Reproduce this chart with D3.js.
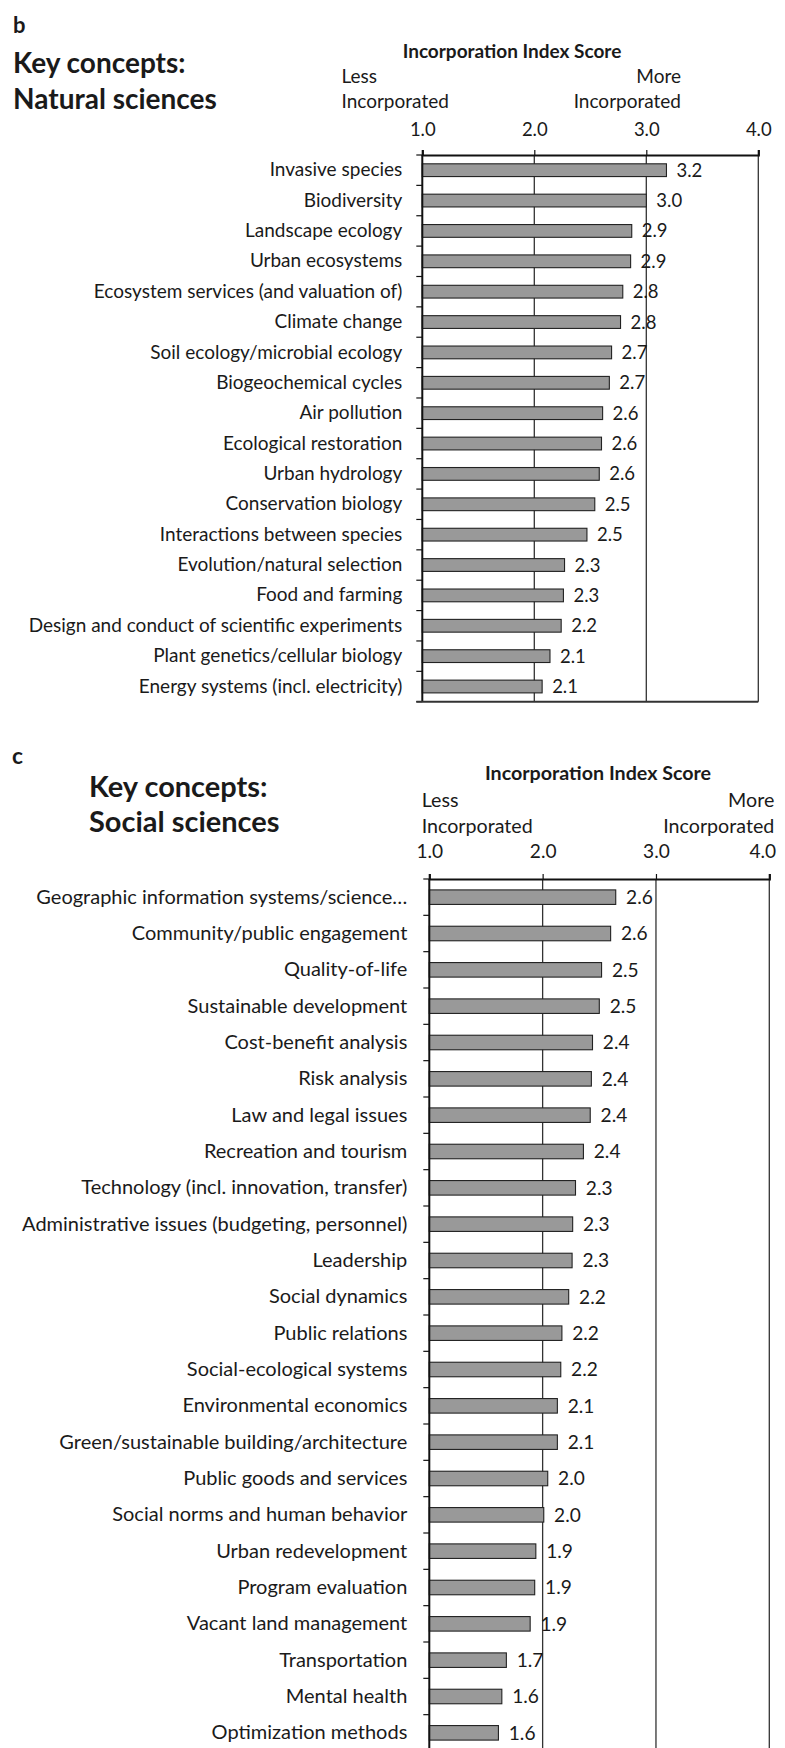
<!DOCTYPE html>
<html>
<head>
<meta charset="utf-8">
<script src="https://cdn.jsdelivr.net/npm/d3@7"></script>
<style>
  html, body { margin: 0; padding: 0; background: #fff; }
  svg { display: block; }
  text { font-family: Lato, "Open Sans", sans-serif; fill: #1a1a1a; }
</style>
</head>
<body>
<svg id="chart" width="785" height="1748"></svg>
<script>
// ---------- data ----------
const ticksX = [1, 2, 3, 4];

const catsB = [
  "Invasive species", "Biodiversity", "Landscape ecology", "Urban ecosystems",
  "Ecosystem services (and valuation of)", "Climate change",
  "Soil ecology/microbial ecology", "Biogeochemical cycles", "Air pollution",
  "Ecological restoration", "Urban hydrology", "Conservation biology",
  "Interactions between species", "Evolution/natural selection", "Food and farming",
  "Design and conduct of scientific experiments", "Plant genetics/cellular biology",
  "Energy systems (incl. electricity)"
];
const valsB = [3.18, 3.00, 2.87, 2.86, 2.79, 2.77, 2.69, 2.67, 2.61, 2.60, 2.58, 2.54, 2.47, 2.27, 2.26, 2.24, 2.14, 2.07];

const catsC = [
  "Geographic information systems/science…", "Community/public engagement",
  "Quality-of-life", "Sustainable development", "Cost-benefit analysis",
  "Risk analysis", "Law and legal issues", "Recreation and tourism",
  "Technology (incl. innovation, transfer)", "Administrative issues (budgeting, personnel)",
  "Leadership", "Social dynamics", "Public relations", "Social-ecological systems",
  "Environmental economics", "Green/sustainable building/architecture",
  "Public goods and services", "Social norms and human behavior",
  "Urban redevelopment", "Program evaluation", "Vacant land management",
  "Transportation", "Mental health", "Optimization methods"
];
const valsC = [2.645, 2.60, 2.52, 2.50, 2.44, 2.43, 2.42, 2.36, 2.29, 2.265, 2.26, 2.23, 2.17, 2.16, 2.13, 2.13, 2.045, 2.01, 1.94, 1.93, 1.89, 1.68, 1.64, 1.61];

const axisTitle = "Incorporation Index Score";
const lessText = ["Less", "Incorporated"];
const moreText = ["More", "Incorporated"];

// ---------- drawing ----------
const svg = d3.select("#chart");
const fmt = d3.format(".1f");

function drawPanel(cfg) {
  const g = svg.append("g");
  const s = cfg.scale;
  const x = d3.scaleLinear().domain([1, 4]).range([cfg.x0, cfg.x1]);
  const p = cfg.pad;
  const y = d3.scaleBand().domain(cfg.cats).range([cfg.top, cfg.bottom])
    .paddingInner(p).paddingOuter(p / 2);
  const step = y.step();

  // panel letter + titles
  g.append("text").attr("x", cfg.letterX).attr("y", cfg.letterY)
    .style("font-weight", 700).style("font-size", (22 * s) + "px").text(cfg.letter);
  cfg.title.forEach((t, i) => {
    g.append("text").attr("x", cfg.titleX).attr("y", cfg.titleY + i * cfg.titleGap)
      .style("font-weight", 700).style("font-size", (28 * s) + "px").text(t);
  });

  // axis title and Less/More
  g.append("text").attr("x", cfg.atX).attr("y", cfg.atY).attr("text-anchor", "middle")
    .style("font-weight", 700).style("font-size", (19 * s) + "px").text(axisTitle);
  lessText.forEach((t, i) => {
    g.append("text").attr("x", cfg.lessX).attr("y", cfg.lmY + i * cfg.lmGap)
      .style("font-size", (19 * s) + "px").text(t);
  });
  moreText.forEach((t, i) => {
    g.append("text").attr("x", cfg.moreX).attr("y", cfg.lmY + i * cfg.lmGap)
      .attr("text-anchor", "end").style("font-size", (19 * s) + "px").text(t);
  });

  // gridlines at 2,3,4
  g.append("g").selectAll("line").data(ticksX.slice(1)).join("line")
    .attr("x1", d => x(d)).attr("x2", d => x(d))
    .attr("y1", cfg.top).attr("y2", cfg.bottom)
    .attr("stroke", "#333").attr("stroke-width", 1.3);

  // bars
  g.append("g").selectAll("rect").data(cfg.vals).join("rect")
    .attr("x", x(1))
    .attr("y", (d, i) => y(cfg.cats[i]))
    .attr("width", d => x(d) - x(1))
    .attr("height", y.bandwidth())
    .attr("fill", "#999999").attr("stroke", "#222").attr("stroke-width", 1.1);

  // value labels
  g.append("g").selectAll("text").data(cfg.vals).join("text")
    .attr("x", d => x(d) + 10 * s)
    .attr("y", (d, i) => y(cfg.cats[i]) + y.bandwidth() / 2)
    .attr("dy", "0.35em")
    .style("font-size", (18.5 * s) + "px").text(d => fmt(d));

  // top axis
  const top = g.append("g").attr("transform", `translate(0,${cfg.top})`)
    .call(d3.axisTop(x).tickValues(ticksX).tickSize(5).tickSizeOuter(5)
      .tickPadding(cfg.tickPad).tickFormat(fmt));
  top.select(".domain").attr("stroke", "#111").attr("stroke-width", 2.2);
  top.selectAll(".tick line").attr("stroke", "#111").attr("stroke-width", 1.2);
  top.selectAll(".tick text").style("font-size", (18.5 * s) + "px")
    .style("font-family", "Lato, sans-serif").attr("fill", "#1a1a1a");
  if (cfg.lastTickDx) top.selectAll(".tick text").filter(d => d === 4).attr("dx", cfg.lastTickDx);

  // left axis labels
  const left = g.append("g").attr("transform", `translate(${x(1)},0)`)
    .call(d3.axisLeft(y).tickSize(0).tickPadding(cfg.labelPad));
  left.select(".domain").remove();
  left.selectAll(".tick text").style("font-size", cfg.labelSize + "px")
    .style("font-family", "Lato, sans-serif").attr("fill", "#1a1a1a");

  // left axis line + boundary ticks
  g.append("line").attr("x1", x(1)).attr("x2", x(1)).attr("y1", cfg.top).attr("y2", cfg.bottom)
    .attr("stroke", "#111").attr("stroke-width", 2);
  g.append("g").selectAll("line").data(d3.range(cfg.cats.length + 1)).join("line")
    .attr("x1", x(1) - 6).attr("x2", x(1))
    .attr("y1", i => cfg.top + i * step).attr("y2", i => cfg.top + i * step)
    .attr("stroke", "#111").attr("stroke-width", 1.2);

  // bottom line
  g.append("line").attr("x1", x(1) - 6).attr("x2", x(4)).attr("y1", cfg.bottom).attr("y2", cfg.bottom)
    .attr("stroke", "#333").attr("stroke-width", 2);
}

drawPanel({
  scale: 1, letter: "b", letterX: 13, letterY: 33,
  title: ["Key concepts:", "Natural sciences"], titleX: 13, titleY: 73, titleGap: 36,
  atX: 512, atY: 58, lessX: 341.5, moreX: 681, lmY: 83, lmGap: 25,
  x0: 422.3, x1: 758.3, top: 155, bottom: 701.7, pad: 0.58,
  cats: catsB, vals: valsB, tickPad: 14, labelPad: 20, labelSize: 19
});

drawPanel({
  scale: 1.035, letter: "c", letterX: 12, letterY: 764,
  title: ["Key concepts:", "Social sciences"], titleX: 89, titleY: 797, titleGap: 35,
  atX: 598, atY: 780, lessX: 421.7, moreX: 774.3, lmY: 807, lmGap: 26,
  x0: 429.3, x1: 769.3, top: 879, bottom: 1751, pad: 0.6,
  cats: catsC, vals: valsC, tickPad: 16, labelPad: 22, labelSize: 20, lastTickDx: -7
});
</script>
</body>
</html>
